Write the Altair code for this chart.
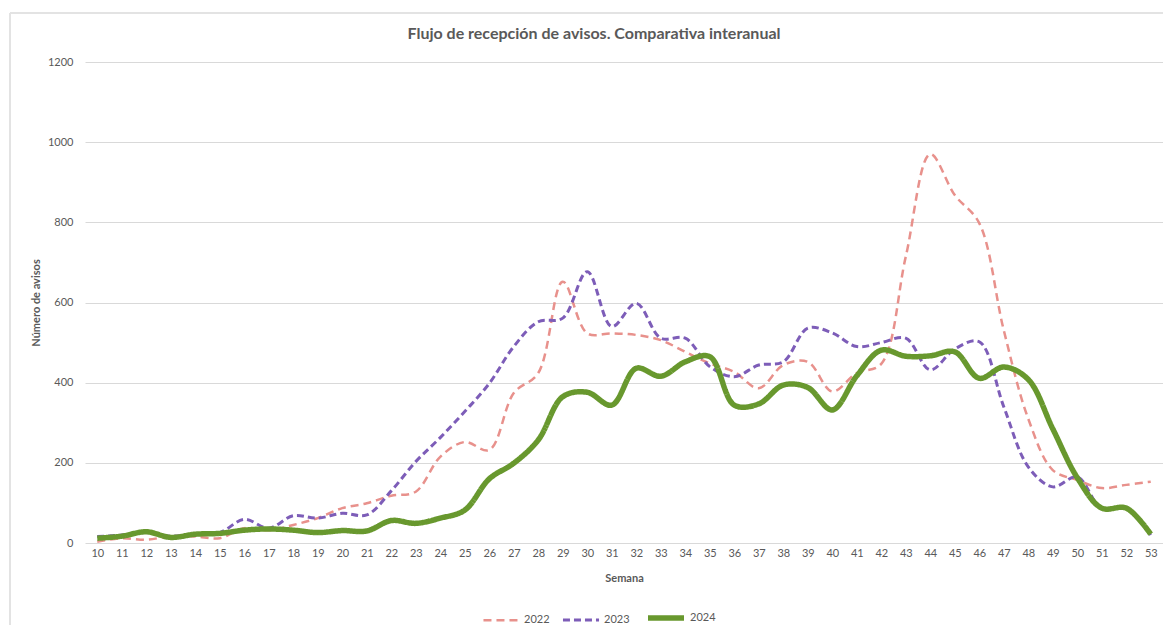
import altair as alt
import pandas as pd

weeks = list(range(10, 54))

v2022 = [3, 12, 8, 17, 16, 12, 37, 32, 45, 62, 87, 99, 118, 128, 215, 252, 232, 374,
         424, 652, 523, 523, 519, 506, 477, 448, 427, 386, 444, 452, 378, 424, 447,
         714, 970, 868, 798, 531, 310, 182, 157, 137, 145, 153]
v2023 = [16, 20, 26, 17, 22, 26, 59, 37, 68, 62, 74, 70, 130, 203, 263, 328, 398, 490,
         552, 561, 677, 540, 598, 511, 511, 440, 415, 444, 452, 536, 524, 490, 500,
         511, 432, 484, 502, 340, 190, 140, 165, 85, 85, 20]
v2024 = [12, 17, 28, 14, 22, 24, 32, 35, 32, 26, 31, 30, 56, 49, 62, 82, 160, 199,
         257, 365, 376, 344, 436, 416, 452, 465, 344, 347, 394, 388, 332, 417, 481,
         466, 467, 477, 411, 439, 408, 285, 163, 87, 87, 22]

years = ["2022", "2023", "2024"]
series = {"2022": v2022, "2023": v2023, "2024": v2024}
colors = ["#E8918C", "#7D5DB8", "#68982E"]

rows = []
for y in years:
    for w, v in zip(weeks, series[y]):
        rows.append({"week": w, "value": v, "year": y})
df = pd.DataFrame(rows)

FONT = "Lato"
GREY = "#595959"

legend = alt.Legend(title=None, orient="none", legendX=397, legendY=535,
                    direction="horizontal", symbolType="stroke", symbolSize=1300,
                    labelFontSize=11, labelColor=GREY, labelFont=FONT,
                    columnPadding=6, labelOffset=3)

lines = alt.Chart(df).mark_line(interpolate="catmull-rom").encode(
    x=alt.X("week:Q",
            scale=alt.Scale(domain=[9.5, 53.5], nice=False, zero=False),
            axis=alt.Axis(values=weeks, title="Semana", grid=False, domain=False,
                          ticks=False, labelPadding=4, titlePadding=14,
                          labelFontSize=11, labelColor=GREY, labelFont=FONT,
                          titleFontSize=11, titleColor=GREY, titleFont=FONT,
                          titleFontWeight="bold", labelFlush=False)),
    y=alt.Y("value:Q",
            scale=alt.Scale(domain=[0, 1200], nice=False),
            axis=alt.Axis(values=[0, 200, 400, 600, 800, 1000, 1200], format="d",
                          title="Número de avisos", grid=True, gridColor="#d9d9d9",
                          domain=False, ticks=False, labelPadding=12, titlePadding=6,
                          labelFontSize=11, labelColor=GREY, labelFont=FONT,
                          titleFontSize=11, titleColor=GREY, titleFont=FONT,
                          titleFontWeight="bold")),
    color=alt.Color("year:N", scale=alt.Scale(domain=years, range=colors), legend=legend),
    strokeDash=alt.StrokeDash("year:N",
                              scale=alt.Scale(domain=years, range=[[8, 5], [7, 4], [1, 0]]),
                              legend=legend),
    strokeWidth=alt.StrokeWidth("year:N",
                                scale=alt.Scale(type="ordinal", domain=years, range=[2.5, 3, 5.5]),
                                legend=legend),
    order=alt.Order("week:Q"),
)

border_top = alt.Chart(df).mark_rule(color="#e3e3e3", strokeWidth=2).encode(
    x=alt.value(-75), x2=alt.value(1078), y=alt.value(-49))
border_left = alt.Chart(df).mark_rule(color="#e3e3e3", strokeWidth=2).encode(
    x=alt.value(-75), y=alt.value(-49), y2=alt.value(563))

chart = alt.layer(border_top, border_left, lines).properties(
    width=1078, height=481,
    autosize=alt.AutoSizeParams(type="none"),
    padding={"left": 77, "top": 54, "right": 0, "bottom": 82},
    title=alt.Title("Flujo de recepción de avisos. Comparativa interanual",
                    fontSize=16, font=FONT, fontWeight="bold", color=GREY,
                    anchor="middle", frame="group", offset=22, dx=-30, dy=52),
).configure_view(stroke=None)

chart.save("out.html", embed_options={"renderer": "svg", "actions": False})
